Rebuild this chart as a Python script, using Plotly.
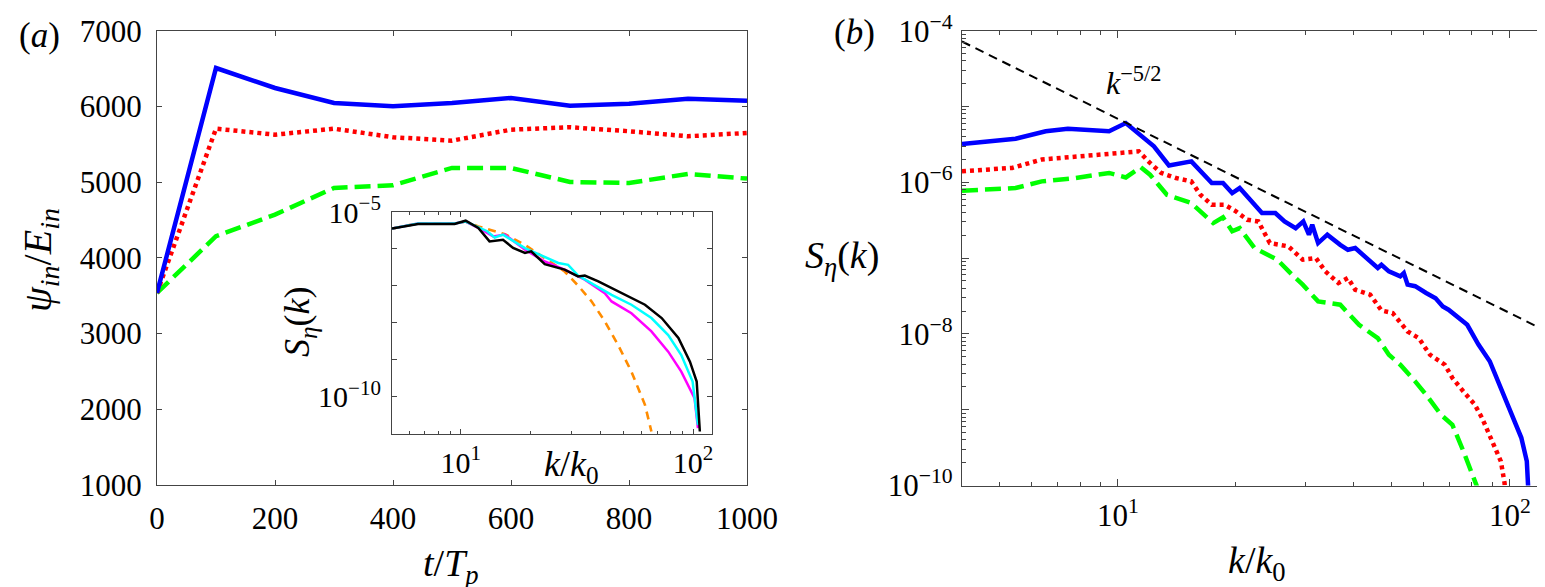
import plotly.graph_objects as go

# ---- panel (a): psi_in / E_in versus t/T_p
t = [0, 100, 200, 300, 400, 500, 600, 700, 800, 900, 1000]
psi_blue = [3535, 6507, 6243, 6045, 6001, 6045, 6111, 6009, 6036, 6102, 6075]
psi_red = [3535, 5705, 5626, 5705, 5592, 5547, 5692, 5724, 5671, 5605, 5649]
psi_green = [3535, 4284, 4569, 4922, 4958, 5186, 5186, 5001, 4988, 5107, 5045]

# ---- inset of (a): spectra at several times
ki_orange = [5.06, 6.55, 9.4, 10.5, 11.9, 15.5, 18.9, 23, 28, 32, 36.6, 41.7, 47.6, 54.3, 62.1, 66.2]
si_orange = [3.55e-6, 4.9e-6, 4.9e-6, 5.5e-6, 4.07e-6, 2.51e-6, 1.29e-6, 5.62e-7, 2.45e-7, 1.02e-7,
             3.8e-8, 1.1e-8, 2.51e-9, 4.79e-10, 6.03e-11, 1.15e-11]
ki_magenta = [5.06, 6.55, 9.4, 10.5, 12.3, 13.8, 15.5, 18.9, 23, 28, 34.2, 41.7, 44.6, 54.3, 66.2,
              78.2, 89, 101.5, 105]
si_magenta = [3.55e-6, 4.9e-6, 4.9e-6, 5.5e-6, 3.31e-6, 2.19e-6, 2.45e-6, 9.55e-7, 4.57e-7, 2.75e-7,
              1.48e-7, 6.31e-8, 3.8e-8, 1.82e-8, 5.89e-9, 1.66e-9, 4.79e-10, 9.12e-11, 1.41e-11]
ki_cyan = [5.06, 6.55, 9.4, 10.5, 13, 14.0, 15.2, 18.9, 26.3, 29, 32, 37.8, 44.6, 54.3, 66.2, 78.2,
           89, 99.6, 105]
si_cyan = [3.55e-6, 4.9e-6, 4.9e-6, 5.5e-6, 3.02e-6, 2.04e-6, 2.45e-6, 1.05e-6, 4.17e-7, 3.72e-7,
           1.91e-7, 1.02e-7, 5.75e-8, 3.09e-8, 1.35e-8, 4.68e-9, 1.35e-9, 2.57e-10, 1.74e-11]
ki_black = [5.06, 6.55, 9.4, 10.5, 11.9, 13.3, 15.2, 16.8, 18.9, 20.1, 23, 28, 32, 34.2, 39.1, 44.6,
            50.9, 62.1, 73.3, 86.5, 97, 103.7, 107]
si_black = [3.55e-6, 4.73e-6, 4.73e-6, 5.82e-6, 3.72e-6, 1.6e-6, 1.78e-6, 1.06e-6, 7.76e-7, 8.61e-7,
            3.89e-7, 2.75e-7, 1.8e-7, 1.91e-7, 1.32e-7, 8.71e-8, 6.03e-8, 3.09e-8, 1.35e-8, 3.89e-9,
            8.91e-10, 2.57e-10, 1.15e-11]

# ---- panel (b): S_eta(k) versus k/k0
k_blue = [4.0, 5.48, 6.54, 7.45, 9.49, 10.47, 12.35, 13.49, 15.39, 17.35, 18.53, 19.56, 20.44, 23.3,
          25.2, 26.6, 28.4, 29.7, 30.7, 31.3, 32.4, 34.2, 36.9, 38.6, 40.3, 44, 46, 47, 49.1, 52.5,
          53.6, 54.8, 57.3, 61.1, 64.6, 67.4, 69.7, 77.8, 83.1, 88.8, 94.8, 101.2, 106.9, 110.4,
          111.6, 112]
s_blue = [3.2e-6, 3.76e-6, 4.71e-6, 5.09e-6, 4.71e-6, 6.05e-6, 2.99e-6, 1.67e-6, 1.89e-6, 9.8e-7,
          9.8e-7, 7.23e-7, 8.41e-7, 3.94e-7, 3.94e-7, 3.05e-7, 2.49e-7, 3.05e-7, 2.04e-7, 2.76e-7,
          1.58e-7, 2.04e-7, 1.5e-7, 1.29e-7, 1.36e-7, 9.08e-8, 7.41e-8, 8.18e-8, 6.7e-8, 5.75e-8,
          6.35e-8, 4.47e-8, 4.27e-8, 3.47e-8, 2.95e-8, 2.31e-8, 2.09e-8, 1.32e-8, 7.24e-9, 4.37e-9,
          1.95e-9, 8.51e-10, 4.27e-10, 2.09e-10, 1.0e-10, 5e-11]
k_red = [4.0, 5.37, 6.39, 7.8, 9.92, 11.3, 12.07, 12.89, 14.06, 15.38, 16.23, 17.34, 18.71, 20, 21.36,
         22.8, 24.4, 27.2, 29.6, 32, 33.8, 36.5, 38.6, 40.3, 44, 47, 50.2, 54.8, 58.5, 62.5, 68.2,
         71.3, 76.1, 81.3, 84.9, 90.7, 94.8, 96.9, 97.5]
s_red = [1.4e-6, 1.55e-6, 2.0e-6, 2.2e-6, 2.44e-6, 2.56e-6, 1.8e-6, 1.33e-6, 1.14e-6, 1.03e-6,
         6.85e-7, 5.07e-7, 5.07e-7, 4.14e-7, 3.21e-7, 3.05e-7, 1.58e-7, 1.43e-7, 9.53e-8, 1.0e-7,
         6.7e-8, 4.7e-8, 5.47e-8, 3.83e-8, 3.3e-8, 2.04e-8, 1.89e-8, 1.08e-8, 8.83e-9, 5.32e-9,
         3.93e-9, 2.63e-9, 1.74e-9, 1.17e-9, 7.76e-10, 3.47e-10, 2.09e-10, 1.07e-10, 5e-11]
k_green = [4.0, 5.48, 6.39, 7.8, 9.49, 10.47, 11.43, 12.07, 13.33, 15.38, 17.5, 18.53, 19.56, 20.44,
           22.3, 25.5, 27.8, 29.6, 32.4, 36.9, 41.2, 46, 49.1, 52.5, 57.3, 61.1, 66.7, 71.3, 76.1,
           82.2, 82.8]
s_green = [7.74e-7, 8.41e-7, 1.03e-6, 1.14e-6, 1.33e-6, 1.16e-6, 1.58e-6, 1.26e-6, 6.85e-7, 5.33e-7,
           2.9e-7, 3.45e-7, 2.26e-7, 2.49e-7, 1.36e-7, 9.53e-8, 6.04e-8, 4.47e-8, 2.69e-8, 2.43e-8,
           1.32e-8, 8.83e-9, 5.32e-9, 3.93e-9, 2.37e-9, 1.58e-9, 8.59e-10, 6.34e-10, 2.82e-10,
           1.0e-10, 5e-11]
# k^-5/2 guide line end points
k_ref = [4, 128]
s_ref = [7.2e-5, 1.0e-8]

W, H = 1545, 587
FONT = "Liberation Serif"
AX = "#444444"


def px_x(p):
    return p / W


def px_y(p):
    return 1 - p / H


def sup(n):
    return "10<sup>" + str(n).replace("-", "\u2212") + "</sup>"


fig = go.Figure()

# panel (a)
fig.add_trace(go.Scatter(x=t, y=psi_green, mode="lines", xaxis="x", yaxis="y",
                         line=dict(color="#00ff00", width=4.5, dash="16px,7px")))
fig.add_trace(go.Scatter(x=t, y=psi_red, mode="lines", xaxis="x", yaxis="y",
                         line=dict(color="#ff0000", width=4.5, dash="4px,4px")))
fig.add_trace(go.Scatter(x=t, y=psi_blue, mode="lines", xaxis="x", yaxis="y",
                         line=dict(color="#0000ff", width=4.5)))

# inset
fig.add_trace(go.Scatter(x=ki_orange, y=si_orange, mode="lines", xaxis="x3", yaxis="y3",
                         line=dict(color="#ff8c00", width=2.6, dash="8px,6px")))
fig.add_trace(go.Scatter(x=ki_magenta, y=si_magenta, mode="lines", xaxis="x3", yaxis="y3",
                         line=dict(color="#ff00ff", width=2.5)))
fig.add_trace(go.Scatter(x=ki_cyan, y=si_cyan, mode="lines", xaxis="x3", yaxis="y3",
                         line=dict(color="#00ffff", width=2.5)))
fig.add_trace(go.Scatter(x=ki_black, y=si_black, mode="lines", xaxis="x3", yaxis="y3",
                         line=dict(color="#000000", width=2.5)))

# panel (b)
fig.add_trace(go.Scatter(x=k_green, y=s_green, mode="lines", xaxis="x2", yaxis="y2",
                         line=dict(color="#00ff00", width=4.5, dash="16px,7px")))
fig.add_trace(go.Scatter(x=k_red, y=s_red, mode="lines", xaxis="x2", yaxis="y2",
                         line=dict(color="#ff0000", width=4.5, dash="4px,4px")))
fig.add_trace(go.Scatter(x=k_blue, y=s_blue, mode="lines", xaxis="x2", yaxis="y2",
                         line=dict(color="#0000ff", width=4.5)))
fig.add_trace(go.Scatter(x=k_ref, y=s_ref, mode="lines", xaxis="x2", yaxis="y2",
                         line=dict(color="#000000", width=2, dash="9px,6px")))

base_axis = dict(showline=True, linecolor=AX, linewidth=1.2, mirror="ticks", ticks="inside",
                 tickcolor=AX, ticklen=5, showgrid=False, zeroline=False, automargin=False,
                 tickfont=dict(family=FONT, size=31, color="black"))

minor_k = [m * 10 ** e for e in range(0, 3) for m in range(2, 10)]
minor_s = [m * 10.0 ** e for e in range(-11, -3) for m in range(2, 10)]
dec_b = [10.0 ** e for e in range(-10, -3)]
dec_i = [10.0 ** e for e in range(-11, -4)]

fig.update_layout(
    width=W, height=H, margin=dict(l=0, r=0, t=0, b=0, pad=0), autosize=False,
    showlegend=False, plot_bgcolor="white", paper_bgcolor="white",
    font=dict(family=FONT, color="black"),
    xaxis=dict(base_axis, domain=[px_x(149), px_x(739)], range=[0, 1000], dtick=200,
               anchor="y", ticklabelstandoff=6),
    yaxis=dict(base_axis, domain=[px_y(476.7), px_y(22.7)], range=[1000, 7000], dtick=1000,
               anchor="x", ticklabelstandoff=8),
    xaxis2=dict(base_axis, domain=[px_x(954), px_x(1544)], type="log",
                range=[0.60206, 2.10721], tickmode="array", tickvals=[10, 100],
                ticktext=[sup(1), sup(2)], ticklen=7, anchor="y2", ticklabelstandoff=2,
                minor=dict(ticks="inside", ticklen=4, tickcolor=AX, tickmode="array",
                           tickvals=minor_k)),
    yaxis2=dict(base_axis, domain=[px_y(477.6), px_y(22.7)], type="log", range=[-10, -4],
                tickmode="array", tickvals=dec_b,
                ticktext=[sup(-10), "", sup(-8), "", sup(-6), "", sup(-4)],
                ticklen=7, anchor="x2", ticklabelstandoff=2,
                minor=dict(ticks="inside", ticklen=4, tickcolor=AX, tickmode="array",
                           tickvals=minor_s)),
    xaxis3=dict(base_axis, domain=[px_x(384), px_x(704.3)], type="log", range=[0.704, 2.083],
                tickmode="array", tickvals=[10, 100], ticktext=[sup(1), sup(2)],
                anchor="y3", ticklabelstandoff=2, tickfont=dict(family=FONT, size=30),
                minor=dict(ticks="inside", ticklen=3, tickcolor=AX, tickmode="array",
                           tickvals=minor_k)),
    yaxis3=dict(base_axis, domain=[px_y(425.7), px_y(204)], type="log", range=[-11, -5],
                tickmode="array", tickvals=dec_i,
                ticktext=["", sup(-10), "", "", "", "", sup(-5)],
                anchor="x3", ticklabelstandoff=4, tickfont=dict(family=FONT, size=30)),
)

ann = [
    ("(<i>a</i>)", 31, 27, 0, 35),
    ("(<i>b</i>)", 846, 24, 0, 35),
    ("<i>ψ<sub>in</sub></i>/<i>E<sub>in</sub></i>", 32, 252, -90, 40),
    ("<i>t</i>/<i>T<sub>p</sub></i>", 443, 558, 0, 38),
    ("<i>k</i>/<i>k</i><sub>0</sub>", 1249, 555, 0, 38),
    ("<i>S<sub>η</sub></i>(<i>k</i>)", 834, 250, 0, 38),
    ("<i>k</i><sup>\u22125/2</sup>", 1125, 73, 0, 32),
    ("<i>S<sub>η</sub></i>(<i>k</i>)", 291, 314, -90, 36),
    ("<i>k</i>/<i>k</i><sub>0</sub>", 563, 458, 0, 36),
]
for text, x, y, ang, size in ann:
    fig.add_annotation(text=text, xref="paper", yref="paper", x=px_x(x), y=px_y(y),
                       xanchor="center", yanchor="middle", showarrow=False, textangle=ang,
                       font=dict(family=FONT, size=size, color="black"))

fig.write_html("out.html")
